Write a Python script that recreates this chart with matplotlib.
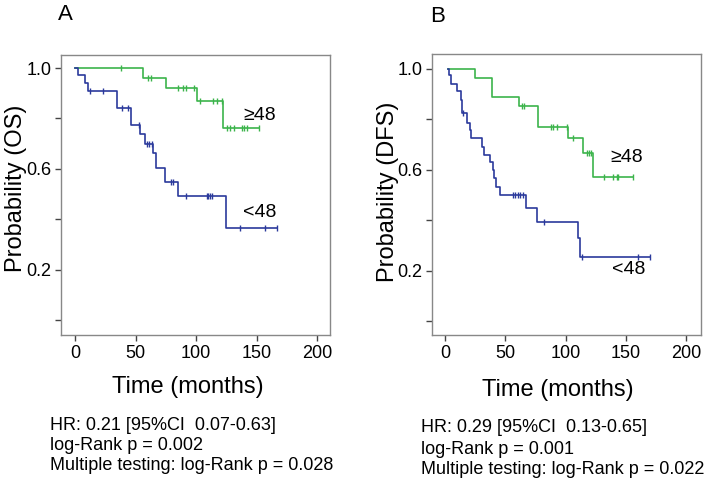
import numpy as np
import matplotlib
matplotlib.use("Agg")
import matplotlib.pyplot as plt

plt.rcParams["font.family"] = ["Liberation Sans", "DejaVu Sans"]

# panel A (OS)
a_hi_times = [0, 56.5, 75.0, 100.5, 122.0]
a_hi_surv = [1.0, 0.962, 0.919, 0.869, 0.761]
a_hi_end = 152.3
a_hi_cens = [37.7, 60.6, 62.5, 85.4, 89.5, 91.7, 98.3, 103.3, 114.3, 117.1,
             121.2, 125.3, 128.1, 131.7, 137.7, 139.7, 141.9, 152.3]

a_lo_times = [0, 2.8, 8.3, 10.5, 34.4, 46.0, 53.7, 57.9, 64.7, 66.7, 74.4, 84.9, 124.5]
a_lo_surv = [1.0, 0.972, 0.942, 0.909, 0.843, 0.774, 0.738, 0.698, 0.661, 0.602,
             0.549, 0.492, 0.364]
a_lo_end = 166.7
a_lo_cens = [12.4, 23.4, 38.6, 44.1, 53.2, 59.2, 61.4, 63.4, 79.3, 80.7, 91.7,
             108.8, 110.2, 111.6, 113.0, 136.4, 157.0, 166.7]

# panel B (DFS)
b_hi_times = [2.8, 24.9, 39.3, 61.7, 77.4, 102.3, 114.2, 122.8]
b_hi_surv = [1.0, 0.966, 0.89, 0.853, 0.772, 0.726, 0.669, 0.571]
b_hi_end = 156.3
b_hi_cens = [63.7, 65.6, 87.7, 89.9, 92.7, 101.0, 106.5, 117.5, 119.7, 121.2,
             132.0, 139.2, 142.5, 143.8, 156.3]

b_lo_times = [2.8, 3.6, 5.0, 9.7, 13.0, 13.8, 18.0, 20.7, 21.6, 30.4, 32.4, 37.3,
              39.6, 40.7, 42.3, 45.6, 67.2, 76.6, 110.1, 112.0]
b_lo_surv = [1.0, 0.976, 0.939, 0.914, 0.877, 0.825, 0.787, 0.758, 0.726, 0.692,
             0.659, 0.630, 0.600, 0.567, 0.534, 0.501, 0.448, 0.395, 0.329, 0.257]
b_lo_end = 170.1
b_lo_cens = [14.7, 56.2, 58.1, 60.3, 62.2, 65.0, 82.4, 113.9, 160.4, 170.1]

x_ticks = [0, 50, 100, 150, 200]
y_ticks = [0.0, 0.2, 0.4, 0.6, 0.8, 1.0]
y_labels = ["", "0.2", "", "0.6", "", "1.0"]

stats_a = ["HR: 0.21 [95%CI  0.07-0.63]", "log-Rank p = 0.002",
           "Multiple testing: log-Rank p = 0.028"]
stats_b = ["HR: 0.29 [95%CI  0.13-0.65]", "log-Rank p = 0.001",
           "Multiple testing: log-Rank p = 0.022"]

GREEN = "#3cb44b"
BLUE = "#2b3a9c"
W, H = 712, 484


def px(x, y):
    return x / W, 1 - y / H


def km(ax, times, surv, end, cens, color):
    t = list(times) + [end]
    s = list(surv) + [surv[-1]]
    ax.step(t, s, where="post", color=color, lw=1.2)
    # censor marks sit on the curve level at that time
    idx = np.searchsorted(np.array(times), np.array(cens), side="right") - 1
    ax.plot(cens, np.array(surv)[idx], ls="", marker="|", ms=5, mew=1.0, color=color)


def setup_axes(ax, xlim, ylim):
    ax.set_xlim(*xlim)
    ax.set_ylim(*ylim)
    ax.set_xticks(x_ticks)
    ax.set_xticklabels([str(v) for v in x_ticks])
    ax.set_yticks(y_ticks)
    ax.set_yticklabels(y_labels)
    ax.tick_params(labelsize=13, length=4, width=1, color="#444444", pad=3)
    for sp in ax.spines.values():
        sp.set_color("#888888")
        sp.set_linewidth(1.0)


fig = plt.figure(figsize=(7.12, 4.84), dpi=100)

ax_a = fig.add_axes([61 / W, 1 - 335 / H, 269 / W, 280 / H])
km(ax_a, a_hi_times, a_hi_surv, a_hi_end, a_hi_cens, GREEN)
km(ax_a, a_lo_times, a_lo_surv, a_lo_end, a_lo_cens, BLUE)
setup_axes(ax_a, (-11.6, 210.7), (-0.0595, 1.0516))
ax_a.text(153, 0.813, "\u226548", fontsize=14, ha="center", va="center")
ax_a.text(153, 0.425, "<48", fontsize=14, ha="center", va="center")

ax_b = fig.add_axes([432 / W, 1 - 335 / H, 269 / W, 281 / H])
km(ax_b, b_hi_times, b_hi_surv, b_hi_end, b_hi_cens, GREEN)
km(ax_b, b_lo_times, b_lo_surv, b_lo_end, b_lo_cens, BLUE)
setup_axes(ax_b, (-10.8, 212.4), (-0.0535, 1.0594))
ax_b.text(151, 0.648, "\u226548", fontsize=14, ha="center", va="center")
ax_b.text(152, 0.204, "<48", fontsize=14, ha="center", va="center")

# panel letters
fig.text(*px(65, 15), "A", fontsize=16, ha="center", va="center")
fig.text(*px(438, 16), "B", fontsize=16, ha="center", va="center")

# axis titles
fig.text(*px(16, 188), "Probability (OS)", fontsize=17,
         rotation=90, ha="center", va="center")
fig.text(*px(388, 192), "Probability (DFS)", fontsize=17,
         rotation=90, ha="center", va="center")
fig.text(*px(188, 387), "Time (months)", fontsize=17, ha="center", va="center")
fig.text(*px(558, 390), "Time (months)", fontsize=17, ha="center", va="center")

for i, line in enumerate(stats_a):
    fig.text(*px(50, 425 + 20 * i), line, fontsize=13, ha="left", va="center")
for i, line in enumerate(stats_b):
    fig.text(*px(421, 428 + 21 * i), line, fontsize=13, ha="left", va="center")

fig.savefig("out.png", dpi=100)
